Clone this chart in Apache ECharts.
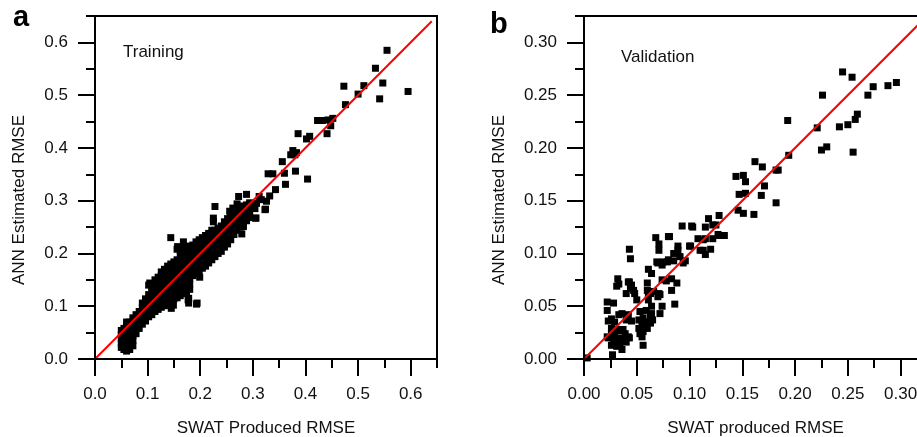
<!DOCTYPE html>
<html>
<head>
<meta charset="utf-8">
<script src="https://cdn.jsdelivr.net/npm/echarts@6/dist/echarts.min.js"></script>
<style>
html,body{margin:0;padding:0;background:#fff;}
#chart{width:917px;height:437px;}
</style>
</head>
<body>
<div id="chart"></div>
<script>
// ---------- Data ----------
const trainingPoints = [
[0.050,0.022],[0.050,0.030],[0.050,0.038],[0.050,0.046],[0.050,0.054],
[0.055,0.018],[0.055,0.026],[0.055,0.034],[0.055,0.042],[0.055,0.050],[0.055,0.058],
[0.060,0.015],[0.060,0.024],[0.060,0.032],[0.060,0.040],[0.060,0.048],[0.060,0.056],[0.060,0.064],[0.060,0.070],
[0.066,0.018],[0.066,0.028],[0.066,0.036],[0.066,0.045],[0.066,0.054],[0.066,0.062],[0.066,0.070],
[0.072,0.025],[0.072,0.035],[0.072,0.044],[0.072,0.053],[0.072,0.062],[0.072,0.071],[0.072,0.078],
[0.078,0.048],[0.078,0.057],[0.078,0.066],[0.078,0.075],[0.078,0.084],
[0.084,0.058],[0.084,0.066],[0.084,0.074],[0.084,0.082],[0.084,0.090],
[0.090,0.066],[0.090,0.074],[0.090,0.082],[0.090,0.090],[0.090,0.098],[0.090,0.106],
[0.096,0.072],[0.096,0.080],[0.096,0.088],[0.096,0.097],[0.096,0.106],[0.096,0.114],
[0.102,0.080],[0.102,0.088],[0.102,0.096],[0.102,0.105],[0.102,0.114],[0.102,0.122],[0.102,0.140],[0.104,0.144],
[0.108,0.084],[0.108,0.092],[0.108,0.100],[0.108,0.109],[0.108,0.118],[0.108,0.127],[0.108,0.136],[0.108,0.142],
[0.114,0.090],[0.114,0.098],[0.114,0.106],[0.114,0.115],[0.114,0.124],[0.114,0.133],[0.114,0.142],[0.114,0.150],
[0.120,0.094],[0.120,0.102],[0.120,0.110],[0.120,0.118],[0.120,0.127],[0.120,0.136],[0.120,0.145],[0.120,0.155],
[0.126,0.098],[0.126,0.106],[0.126,0.114],[0.126,0.122],[0.126,0.131],[0.126,0.140],[0.126,0.149],[0.126,0.158],[0.126,0.165],
[0.132,0.101],[0.132,0.110],[0.132,0.118],[0.132,0.127],[0.132,0.136],[0.132,0.145],[0.132,0.154],[0.132,0.163],[0.132,0.170],
[0.138,0.106],[0.138,0.114],[0.138,0.123],[0.138,0.132],[0.138,0.141],[0.138,0.150],[0.138,0.159],[0.138,0.168],[0.138,0.176],
[0.144,0.110],[0.144,0.118],[0.144,0.127],[0.144,0.136],[0.144,0.145],[0.144,0.154],[0.144,0.163],[0.144,0.172],[0.144,0.180],
[0.150,0.114],[0.150,0.122],[0.150,0.131],[0.150,0.140],[0.150,0.149],[0.150,0.158],[0.150,0.167],[0.150,0.176],[0.150,0.184],
[0.156,0.116],[0.156,0.126],[0.156,0.135],[0.156,0.144],[0.156,0.153],[0.156,0.162],[0.156,0.171],[0.156,0.180],[0.156,0.188],[0.156,0.208],
[0.162,0.120],[0.162,0.130],[0.162,0.140],[0.162,0.149],[0.162,0.158],[0.162,0.167],[0.162,0.176],[0.162,0.185],[0.162,0.194],[0.162,0.206],
[0.168,0.124],[0.168,0.134],[0.168,0.144],[0.168,0.154],[0.168,0.163],[0.168,0.172],[0.168,0.181],[0.168,0.190],[0.168,0.200],[0.168,0.214],[0.168,0.222],
[0.174,0.128],[0.174,0.138],[0.174,0.148],[0.174,0.158],[0.174,0.168],[0.174,0.177],[0.174,0.186],[0.174,0.196],[0.174,0.206],[0.174,0.214],
[0.180,0.132],[0.180,0.142],[0.180,0.152],[0.180,0.162],[0.180,0.172],[0.180,0.182],[0.180,0.192],[0.180,0.202],[0.180,0.210],
[0.186,0.158],[0.186,0.168],[0.186,0.178],[0.186,0.188],[0.186,0.198],[0.186,0.208],[0.186,0.216],
[0.192,0.162],[0.192,0.172],[0.192,0.182],[0.192,0.192],[0.192,0.202],[0.192,0.212],[0.192,0.222],
[0.198,0.166],[0.198,0.176],[0.198,0.186],[0.198,0.196],[0.198,0.206],[0.198,0.216],[0.198,0.226],
[0.204,0.172],[0.204,0.182],[0.204,0.192],[0.204,0.202],[0.204,0.212],[0.204,0.222],[0.204,0.230],
[0.210,0.176],[0.210,0.186],[0.210,0.196],[0.210,0.206],[0.210,0.216],[0.210,0.226],[0.210,0.234],
[0.216,0.182],[0.216,0.192],[0.216,0.202],[0.216,0.212],[0.216,0.222],[0.216,0.232],[0.216,0.238],
[0.222,0.188],[0.222,0.198],[0.222,0.208],[0.222,0.218],[0.222,0.228],[0.222,0.238],[0.222,0.244],
[0.228,0.194],[0.228,0.204],[0.228,0.214],[0.228,0.224],[0.228,0.234],[0.228,0.244],
[0.234,0.200],[0.234,0.210],[0.234,0.220],[0.234,0.230],[0.234,0.240],[0.234,0.248],
[0.240,0.204],[0.240,0.214],[0.240,0.224],[0.240,0.234],[0.240,0.244],[0.240,0.252],
[0.246,0.212],[0.246,0.222],[0.246,0.232],[0.246,0.242],[0.246,0.252],[0.246,0.260],
[0.252,0.218],[0.252,0.228],[0.252,0.238],[0.252,0.248],[0.252,0.258],[0.252,0.266],
[0.258,0.226],[0.258,0.236],[0.258,0.246],[0.258,0.256],[0.258,0.266],[0.258,0.274],
[0.264,0.236],[0.264,0.246],[0.264,0.256],[0.264,0.266],[0.264,0.276],
[0.270,0.244],[0.270,0.254],[0.270,0.264],[0.270,0.274],[0.270,0.284],
[0.276,0.250],[0.276,0.260],[0.276,0.270],[0.276,0.280],[0.276,0.290],
[0.282,0.256],[0.282,0.266],[0.282,0.276],[0.282,0.286],
[0.288,0.262],[0.288,0.272],[0.288,0.282],[0.288,0.292],
[0.294,0.268],[0.294,0.278],[0.294,0.288],[0.294,0.296],
// scattered points
[0.555,0.585],[0.533,0.551],[0.547,0.523],[0.541,0.493],[0.595,0.507],[0.511,0.518],[0.500,0.502],
[0.473,0.517],[0.476,0.482],[0.423,0.452],[0.432,0.452],[0.443,0.453],[0.452,0.456],[0.448,0.442],
[0.441,0.427],[0.386,0.427],[0.402,0.417],[0.408,0.422],[0.376,0.395],[0.380,0.387],[0.372,0.387],
[0.383,0.391],[0.356,0.374],[0.381,0.356],[0.360,0.352],[0.362,0.331],[0.404,0.341],[0.329,0.351],
[0.338,0.351],[0.343,0.321],[0.332,0.309],[0.326,0.299],[0.324,0.284],[0.312,0.308],[0.316,0.302],
[0.304,0.285],[0.305,0.267],[0.288,0.312],[0.273,0.308],[0.228,0.289],[0.282,0.251],[0.279,0.237],
[0.256,0.280],[0.225,0.267],[0.225,0.260],[0.144,0.230],[0.157,0.213],[0.199,0.155],[0.145,0.096],
[0.178,0.106],[0.194,0.106],[0.178,0.115],[0.142,0.109],[0.262,0.286],[0.275,0.283],[0.270,0.294],
[0.294,0.294],[0.300,0.290],[0.262,0.264],[0.270,0.257],[0.278,0.264],[0.250,0.231],[0.240,0.226],
[0.237,0.210],[0.225,0.210],[0.218,0.204],[0.149,0.102],[0.177,0.112],[0.193,0.104],[0.187,0.169],
[0.307,0.295],[0.323,0.283],[0.306,0.267],[0.281,0.251]
];
const validationPoints = [
[0.245,0.272],[0.254,0.267],[0.226,0.250],[0.269,0.250],[0.274,0.258],[0.288,0.259],[0.296,0.262],
[0.193,0.226],[0.221,0.219],[0.242,0.220],[0.250,0.222],[0.257,0.227],[0.259,0.232],
[0.225,0.198],[0.230,0.201],[0.255,0.196],[0.194,0.193],[0.182,0.179],[0.184,0.179],
[0.162,0.187],[0.169,0.182],[0.171,0.164],[0.168,0.155],[0.182,0.148],[0.161,0.137],[0.151,0.138],
[0.144,0.173],[0.151,0.174],[0.153,0.168],[0.147,0.156],[0.153,0.157],[0.146,0.141],
[0.128,0.136],[0.118,0.133],[0.122,0.127],[0.115,0.125],[0.093,0.126],[0.103,0.125],
[0.113,0.113],[0.115,0.114],[0.122,0.114],[0.128,0.117],[0.133,0.117],
[0.113,0.103],[0.120,0.104],[0.115,0.099],[0.101,0.107],
[0.068,0.115],[0.081,0.116],[0.071,0.109],[0.071,0.103],
[0.089,0.107],[0.089,0.103],[0.085,0.100],
[0.079,0.092],[0.085,0.093],[0.091,0.097],[0.070,0.091],[0.074,0.089],[0.096,0.093],[0.094,0.091],
[0.043,0.104],[0.044,0.095],
[0.061,0.085],[0.064,0.081],[0.060,0.072],[0.074,0.075],[0.078,0.074],[0.083,0.076],[0.088,0.072],
[0.032,0.076],[0.033,0.071],[0.031,0.069],
[0.043,0.073],[0.045,0.070],[0.047,0.065],
[0.040,0.062],[0.048,0.062],[0.050,0.056],
[0.061,0.062],[0.066,0.064],[0.071,0.062],[0.072,0.061],[0.070,0.059],[0.060,0.065],[0.063,0.062],
[0.074,0.050],[0.072,0.043],[0.083,0.065],[0.086,0.052],
[0.022,0.054],[0.028,0.053],[0.022,0.046],
[0.023,0.036],[0.026,0.038],[0.029,0.035],[0.033,0.042],[0.036,0.043],
[0.042,0.042],[0.040,0.037],[0.045,0.036],
[0.053,0.045],[0.056,0.039],[0.058,0.035],
[0.064,0.043],[0.065,0.037],[0.063,0.034],[0.060,0.029],[0.056,0.026],[0.055,0.021],[0.056,0.013],
[0.052,0.029],[0.053,0.024],
[0.026,0.029],[0.031,0.028],[0.034,0.027],[0.037,0.028],[0.039,0.024],[0.042,0.021],[0.040,0.016],[0.043,0.020],
[0.026,0.024],[0.029,0.022],[0.028,0.018],[0.031,0.016],[0.033,0.020],[0.036,0.009],[0.026,0.013],[0.023,0.020],[0.022,0.021],
[0.027,0.004],[0.003,0.001],[0.031,0.012],[0.034,0.015],[0.037,0.018],
[0.125,0.127],[0.127,0.118],[0.102,0.126],[0.108,0.114],[0.110,0.103],[0.100,0.107],[0.080,0.094],[0.075,0.092],
[0.069,0.092],[0.052,0.037],[0.055,0.031],[0.059,0.035],[0.063,0.040],[0.061,0.056],[0.064,0.050],[0.059,0.046],
[0.044,0.067],[0.042,0.073],[0.080,0.116]
];
const trainingLine = [[0, 0], [0.64, 0.64]];
const validationLine = [[0, 0], [0.33, 0.33]];

const trainingMajorTicks = [0, 0.1, 0.2, 0.3, 0.4, 0.5, 0.6];
const trainingMinorTicks = [0.05, 0.15, 0.25, 0.35, 0.45, 0.55, 0.65];
const validationMajorTicks = [0, 0.05, 0.10, 0.15, 0.20, 0.25, 0.30];
const validationMinorTicks = [0.025, 0.075, 0.125, 0.175, 0.225, 0.275, 0.325];

const trainingMax = 0.65;
const validationMax = 0.325;

// ---------- Chart ----------
const FONT = 'Liberation Sans, Arial, sans-serif';
const AX = '#000';

function axisPair(kind, gridIndex, max, major, minor, decimals) {
  const pos = kind === 'x' ? 'bottom' : 'left';
  const main = {
    type: 'value', gridIndex: gridIndex, position: pos, min: 0, max: max,
    splitLine: {show: false},
    axisLine: {show: true, onZero: false, lineStyle: {color: AX, width: 2}},
    axisTick: {show: true, inside: false, length: 17, lineStyle: {color: AX, width: 2}, customValues: major},
    axisLabel: {show: true, margin: 27, color: '#111', fontSize: 17, fontFamily: FONT,
      customValues: major, formatter: v => Number(v).toFixed(decimals),
      showMinLabel: true, showMaxLabel: true, hideOverlap: false},
    z: 5
  };
  const mnr = {
    type: 'value', gridIndex: gridIndex, position: pos, min: 0, max: max, offset: 0,
    splitLine: {show: false},
    axisLine: {show: false, onZero: false},
    axisTick: {show: true, inside: false, length: 9, lineStyle: {color: AX, width: 2}, customValues: minor},
    axisLabel: {show: false},
    z: 5
  };
  return [main, mnr];
}

const xa = axisPair('x', 0, trainingMax, trainingMajorTicks, trainingMinorTicks, 1)
  .concat(axisPair('x', 1, validationMax, validationMajorTicks, validationMinorTicks, 2));
const ya = axisPair('y', 0, trainingMax, trainingMajorTicks, trainingMinorTicks, 1)
  .concat(axisPair('y', 1, validationMax, validationMajorTicks, validationMinorTicks, 2));

const chart = echarts.init(document.getElementById('chart'), null, {renderer: 'canvas'});
chart.setOption({
  animation: false,
  backgroundColor: '#fff',
  grid: [
    {left: 95, top: 16, width: 342, height: 343, show: true, borderColor: '#000', borderWidth: 2, backgroundColor: 'transparent', containLabel: false, outerBoundsMode: 'none'},
    {left: 584, top: 16, width: 343, height: 343, show: true, borderColor: '#000', borderWidth: 2, backgroundColor: 'transparent', containLabel: false, outerBoundsMode: 'none'}
  ],
  xAxis: xa,
  yAxis: ya,
  series: [
    {type: 'scatter', xAxisIndex: 0, yAxisIndex: 0, data: trainingPoints, symbol: 'rect', symbolSize: 7,
      itemStyle: {color: '#000', opacity: 1}, z: 2, silent: true},
    {type: 'scatter', xAxisIndex: 2, yAxisIndex: 2, data: validationPoints, symbol: 'rect', symbolSize: 7,
      itemStyle: {color: '#000', opacity: 1}, z: 2, silent: true},
    {type: 'line', xAxisIndex: 0, yAxisIndex: 0, data: trainingLine, symbol: 'none',
      lineStyle: {color: '#ff0000', width: 2}, z: 3, silent: true},
    {type: 'line', xAxisIndex: 2, yAxisIndex: 2, data: validationLine, symbol: 'none',
      lineStyle: {color: '#ff0000', width: 2}, z: 3, silent: true, clip: true}
  ],
  graphic: [
    {type: 'text', x: 13, y: 18, style: {text: 'a', fill: '#000', font: 'bold 29px ' + FONT, align: 'left', verticalAlign: 'middle'}},
    {type: 'text', x: 490, y: 25, style: {text: 'b', fill: '#000', font: 'bold 29px ' + FONT, align: 'left', verticalAlign: 'middle'}},
    {type: 'text', x: 123, y: 52, style: {text: 'Training', fill: '#111', font: '17px ' + FONT, align: 'left', verticalAlign: 'middle'}},
    {type: 'text', x: 621, y: 57, style: {text: 'Validation', fill: '#111', font: '17px ' + FONT, align: 'left', verticalAlign: 'middle'}},
    {type: 'text', x: 266, y: 428, style: {text: 'SWAT Produced RMSE', fill: '#111', font: '17px ' + FONT, align: 'center', verticalAlign: 'middle'}},
    {type: 'text', x: 755.5, y: 428, style: {text: 'SWAT produced RMSE', fill: '#111', font: '17px ' + FONT, align: 'center', verticalAlign: 'middle'}},
    {type: 'text', x: 19, y: 200, rotation: Math.PI / 2, style: {text: 'ANN Estimated RMSE', fill: '#111', font: '17px ' + FONT, align: 'center', verticalAlign: 'middle'}},
    {type: 'text', x: 499, y: 200, rotation: Math.PI / 2, style: {text: 'ANN Estimated RMSE', fill: '#111', font: '17px ' + FONT, align: 'center', verticalAlign: 'middle'}}
  ]
});
</script>
</body>
</html>
